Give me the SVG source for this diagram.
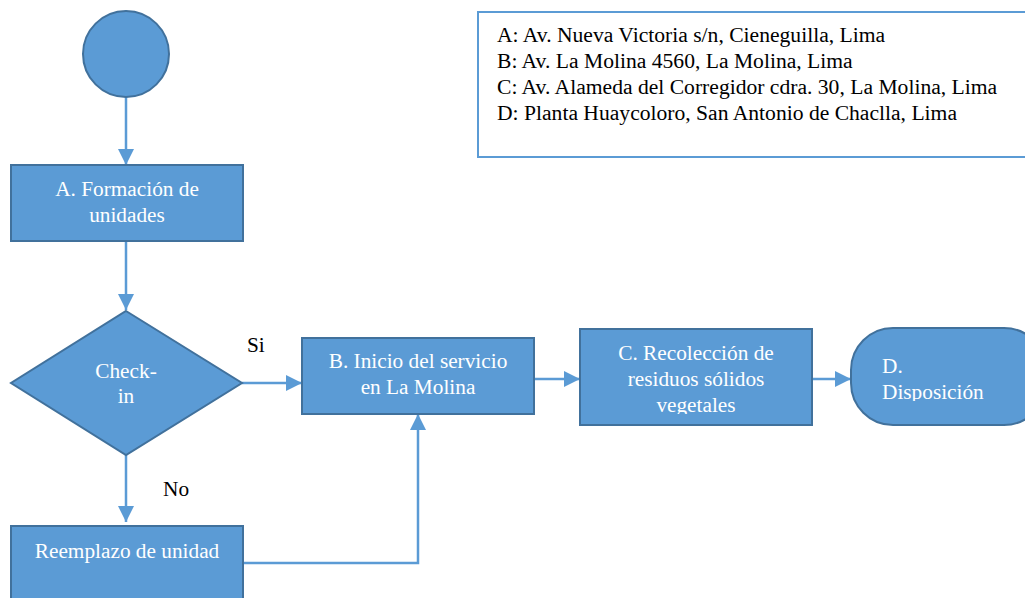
<svg xmlns="http://www.w3.org/2000/svg" width="1025" height="598" viewBox="0 0 1025 598">
<style>
.shape{fill:#5B9BD5;stroke:#41719C;stroke-width:2}
.lbl{font-family:"Liberation Serif","Times New Roman",serif;font-size:21.3px;fill:#FFFFFF;text-anchor:middle}
.blk{font-family:"Liberation Serif","Times New Roman",serif;font-size:21.3px;fill:#000000}
.leg{font-family:"Liberation Serif","Times New Roman",serif;font-size:21.6px;fill:#000000}
.conn{fill:none;stroke:#5B9BD5;stroke-width:2.5}
</style>
<defs>
<marker id="arr" viewBox="0 0 16 16" refX="16" refY="8" markerUnits="userSpaceOnUse" markerWidth="16" markerHeight="16" orient="auto">
<path d="M0,0 L16,8 L0,16 Z" fill="#5B9BD5"/>
</marker>
<clipPath id="clipC"><rect x="580" y="329" width="232" height="85"/></clipPath>
<clipPath id="clipD"><rect x="851" y="328" width="180" height="73"/></clipPath>
</defs>
<rect id="legend" x="478" y="12" width="550" height="145" fill="#FFFFFF" stroke="#5B9BD5" stroke-width="2"/>
<g id="legend-text" class="leg">
<text x="497" y="42">A: Av. Nueva Victoria s/n, Cieneguilla, Lima</text>
<text x="497" y="68">B: Av. La Molina 4560, La Molina, Lima</text>
<text x="497" y="94">C: Av. Alameda del Corregidor cdra. 30, La Molina, Lima</text>
<text x="497" y="120">D: Planta Huaycoloro, San Antonio de Chaclla, Lima</text>
</g>
<g id="connectors">
<line class="conn" x1="126" y1="97" x2="126" y2="165" marker-end="url(#arr)"/>
<line class="conn" x1="126" y1="241" x2="126" y2="310" marker-end="url(#arr)"/>
<line class="conn" x1="242" y1="383" x2="302" y2="383" marker-end="url(#arr)"/>
<line class="conn" x1="126" y1="455" x2="126" y2="522" marker-end="url(#arr)"/>
<polyline class="conn" points="243,563 418,563 418,414" marker-end="url(#arr)"/>
<line class="conn" x1="534" y1="379" x2="580" y2="379" marker-end="url(#arr)"/>
<line class="conn" x1="812" y1="379" x2="851" y2="379" marker-end="url(#arr)"/>
<text class="blk" x="247" y="352">Si</text>
<text class="blk" x="163" y="496">No</text>
</g>
<g id="start">
<circle class="shape" cx="126" cy="54" r="43"/>
</g>
<g id="nodeA">
<rect class="shape" x="11" y="165" width="232" height="76"/>
<text class="lbl" x="127" y="196">A. Formación de</text>
<text class="lbl" x="127" y="222">unidades</text>
</g>
<g id="check">
<polygon class="shape" points="126,311 242,383 126,455 11,383"/>
<text class="lbl" x="126" y="378">Check-</text>
<text class="lbl" x="126" y="403">in</text>
</g>
<g id="nodeB">
<rect class="shape" x="302" y="338" width="232" height="76"/>
<text class="lbl" x="418" y="368">B. Inicio del servicio</text>
<text class="lbl" x="418" y="394">en La Molina</text>
</g>
<g id="nodeC">
<rect class="shape" x="580" y="329" width="232" height="96"/>
<g clip-path="url(#clipC)">
<text class="lbl" x="696" y="360">C. Recolección de</text>
<text class="lbl" x="696" y="386">residuos sólidos</text>
<text class="lbl" x="696" y="412">vegetales</text>
</g>
</g>
<g id="nodeD">
<rect class="shape" x="851" y="328" width="195" height="97" rx="42" ry="42"/>
<g clip-path="url(#clipD)">
<text class="lbl" x="882" y="373" style="text-anchor:start">D.</text>
<text class="lbl" x="882" y="399" style="text-anchor:start">Disposición</text>
</g>
</g>
<g id="nodeR">
<rect class="shape" x="11" y="526" width="232" height="90"/>
<text class="lbl" x="127" y="558">Reemplazo de unidad</text>
</g>
</svg>
